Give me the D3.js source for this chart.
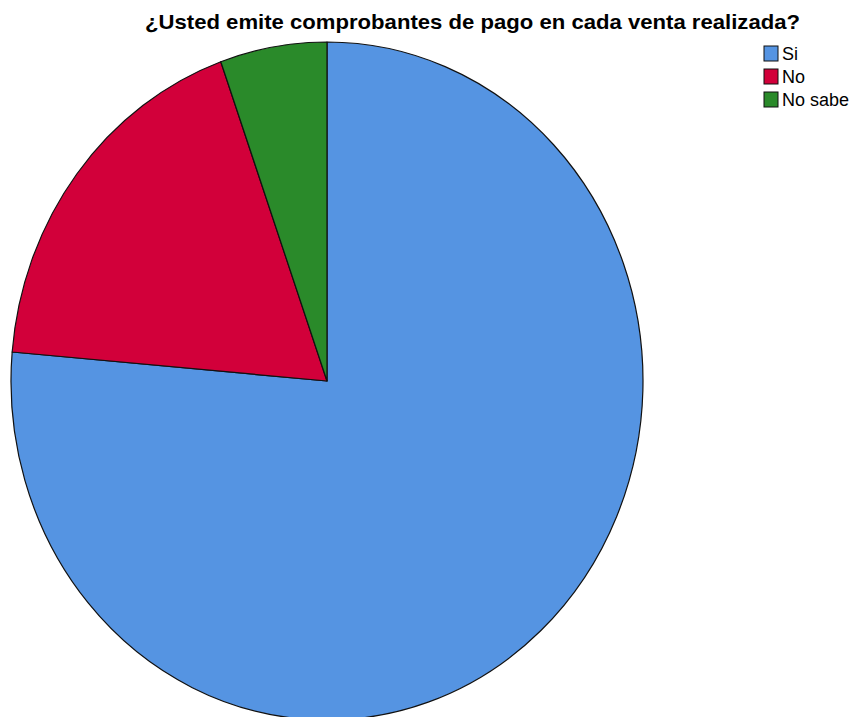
<!DOCTYPE html>
<html>
<head>
<meta charset="utf-8">
<script src="https://cdn.jsdelivr.net/npm/d3@7"></script>
<style>
  body { margin: 0; background: #fff; }
  svg { display: block; }
</style>
</head>
<body>
<svg id="chart" width="853" height="717"></svg>
<script>
const categories = ["Si", "No", "No sabe"];
const counts = [42, 10, 3];
const colors = ["#5594e2", "#d2003a", "#2a8a2a"];
const title = "¿Usted emite comprobantes de pago en cada venta realizada?";

const svg = d3.select("#chart");

// SPSS style pie is slightly stretched vertically
const cx = 327, cy = 381;
const rx = 316, ry = 339;

const data = categories.map((c, i) => ({ cat: c, value: counts[i] }));

const pie = d3.pie()
  .sort(null)
  .value((d) => d.value);

const arc = d3.arc().innerRadius(0).outerRadius(rx);

const pieG = svg.append("g")
  .attr("transform", `translate(${cx},${cy}) scale(1,${ry / rx})`);

pieG.selectAll("path")
  .data(pie(data))
  .enter()
  .append("path")
  .attr("d", arc)
  .attr("fill", (d, i) => colors[i])
  .attr("stroke", "#111")
  .attr("stroke-width", 1.2)
  .attr("vector-effect", "non-scaling-stroke")
  .attr("stroke-linejoin", "round");

svg.append("text")
  .attr("x", 145)
  .attr("y", 29)
  .attr("textLength", 655)
  .attr("lengthAdjust", "spacingAndGlyphs")
  .attr("font-family", "Liberation Sans, Arial, sans-serif")
  .attr("font-weight", "bold")
  .attr("font-size", 21)
  .attr("fill", "#000")
  .text(title);

// legend
const legend = svg.append("g").attr("transform", "translate(764,46)");
const item = legend.selectAll("g")
  .data(categories)
  .enter()
  .append("g")
  .attr("transform", (d, i) => `translate(0,${i * 23})`);

item.append("rect")
  .attr("width", 14)
  .attr("height", 15)
  .attr("fill", (d, i) => colors[i])
  .attr("stroke", "#111")
  .attr("stroke-width", 1);

item.append("text")
  .attr("x", 18)
  .attr("y", 14)
  .attr("font-family", "Liberation Sans, Arial, sans-serif")
  .attr("font-size", 18)
  .attr("fill", "#000")
  .text((d) => d);
</script>
</body>
</html>
